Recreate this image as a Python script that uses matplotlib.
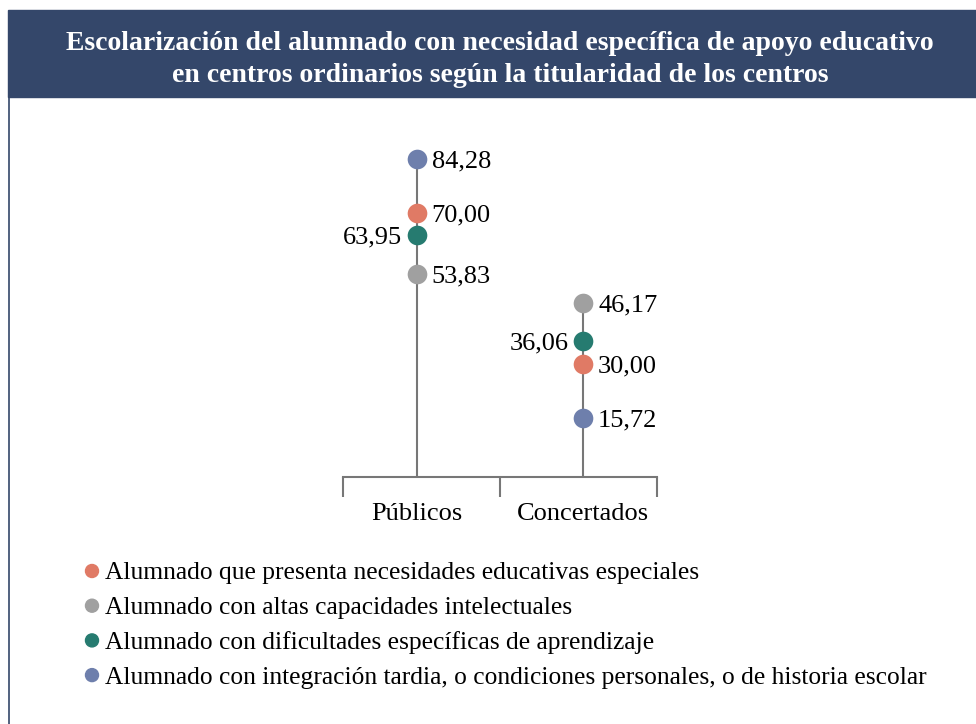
import matplotlib.pyplot as plt
from matplotlib.patches import Rectangle, Ellipse
from matplotlib.lines import Line2D

plt.rcParams['font.family'] = ['Liberation Serif', 'DejaVu Serif']

# datos
titulo = ['Escolarización del alumnado con necesidad específica de apoyo educativo',
          'en centros ordinarios según la titularidad de los centros']
centros = ['Públicos', 'Concertados']
series = ['Alumnado que presenta necesidades educativas especiales',
          'Alumnado con altas capacidades intelectuales',
          'Alumnado con dificultades específicas de aprendizaje',
          'Alumnado con integración tardia, o condiciones personales, o de historia escolar']
nee = [70.00, 30.00]
altas = [53.83, 46.17]
dificultades = [63.95, 36.06]
tardia = [84.28, 15.72]
colores = ['#e07a65', '#a0a0a0', '#267b70', '#6e7fac']
lado = ['r', 'r', 'l', 'r']  # donde va la etiqueta

W, H = 976, 724
fig = plt.figure(figsize=(W / 100, H / 100), dpi=100)

# banda del titulo y borde izquierdo
fig.patches.append(Rectangle((8 / W, 1 - 97 / H), 1 - 8 / W, 87 / H,
                             transform=fig.transFigure, color='#34476a', zorder=0))
fig.lines.append(Line2D([8.5 / W, 8.5 / W], [0, 1 - 97 / H], transform=fig.transFigure,
                        color='#34476a', lw=1.2))
for i, linea in enumerate(titulo):
    fig.text(500 / W, 1 - (40 + 33 * i) / H, linea, ha='center', va='center_baseline',
             color='white', fontsize=20, fontweight='bold')

ax = fig.add_axes([343 / W, 1 - 477 / H, 314 / W, 377.8 / H])
ax.set_xlim(0, 2)
ax.set_ylim(0, 100)
pos = [0.47, 1.53]

valores = [nee, altas, dificultades, tardia]
for i, x in enumerate(pos):
    top = max(v[i] for v in valores)
    ax.plot([x, x], [0, top], color='#777777', lw=1.5, zorder=1)
    for v, c, s in zip(valores, colores, lado):
        ax.scatter(x, v[i], s=200, color=c, zorder=3, linewidths=0)
        txt = f'{v[i]:.2f}'.replace('.', ',')
        if s == 'r':
            ax.text(x + 0.095, v[i], txt, ha='left', va='center_baseline', fontsize=19)
        else:
            ax.text(x - 0.095, v[i], txt, ha='right', va='center_baseline', fontsize=19)

for sp in ['top', 'right', 'left']:
    ax.spines[sp].set_visible(False)
ax.spines['bottom'].set_color('#777777')
ax.spines['bottom'].set_linewidth(1.5)
ax.set_yticks([])
ax.set_xticks([0, 1, 2])
ax.set_xticklabels([])
ax.tick_params(axis='x', which='major', length=14.5, width=1.5, color='#777777')
ax.set_xticks(pos, minor=True)
ax.set_xticklabels(centros, minor=True, fontsize=19)
ax.tick_params(axis='x', which='minor', length=0, pad=19)
ax.patch.set_visible(False)

# leyenda
for k, (lab, c) in enumerate(zip(series, colores)):
    y = 1 - (571 + 34.7 * k) / H
    fig.patches.append(Ellipse((92 / W, y), 13 / W, 13 / H, transform=fig.transFigure,
                               color=c))
    fig.text(105 / W, y, lab, ha='left', va='center_baseline', fontsize=18.4)

fig.savefig('out.png', dpi=100)
